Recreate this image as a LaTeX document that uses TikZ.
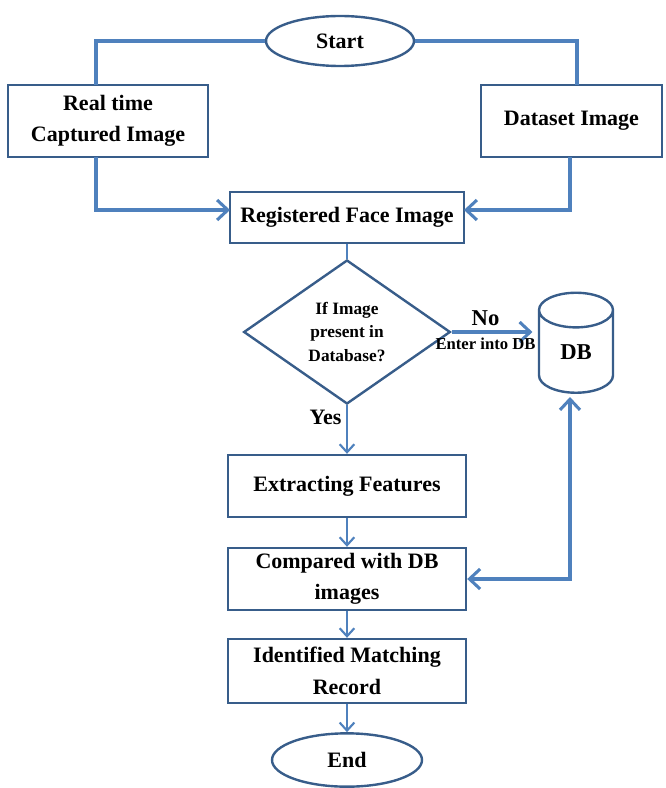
\documentclass[tikz,border=0pt]{standalone}
\usepackage{fontspec}
\setmainfont{Liberation Serif}
\usetikzlibrary{shapes.geometric,arrows.meta}

\definecolor{boxblue}{RGB}{56,93,138}
\definecolor{linkblue}{RGB}{79,129,189}

\tikzset{
    box/.style={draw=boxblue, line width=1.8pt, rectangle, align=center,
        font=\fontsize{16.5}{23.5}\selectfont\bfseries, inner sep=2pt},
    term/.style={draw=boxblue, line width=1.8pt, ellipse, inner sep=0pt,
        font=\fontsize{16.5}{20}\selectfont\bfseries},
    decision/.style={draw=boxblue, line width=1.8pt, diamond, inner sep=0pt, align=center,
        minimum width=155pt, minimum height=108pt,
        font=\fontsize{13}{17.5}\selectfont\bfseries},
    store/.style={draw=boxblue, line width=1.8pt, cylinder, shape border rotate=90,
        aspect=1.1, inner sep=0pt, minimum width=55.5pt, minimum height=75pt,
        font=\fontsize{17}{20}\selectfont\bfseries},
    link/.style={draw=linkblue, line width=1.6pt},
    thick link/.style={draw=linkblue, line width=2.3pt},
    tip/.style={-{Straight Barb[length=6pt,width=11pt,line width=1.6pt]}},
    big tip/.style={-{Straight Barb[length=8pt,width=15pt,line width=2.3pt]}},
    both tips/.style={{Straight Barb[length=8pt,width=15pt,line width=2.3pt]}-{Straight Barb[length=8pt,width=15pt,line width=2.3pt]}},
}

\begin{document}
\begin{tikzpicture}[x=0.75pt, y=-0.75pt]
    \useasboundingbox (0,0) rectangle (666,788);

    % nodes
    \node[term, minimum width=111pt, minimum height=37.5pt] (start) at (340,41) {Start};
    \node[box, minimum width=150pt, minimum height=54pt] (rt) at (108,121) {Real time\\Captured Image};
    \node[box, minimum width=135.75pt, minimum height=54pt] (ds) at (571.5,121) {Dataset Image};
    \node[box, minimum width=175.5pt, minimum height=38.25pt] (reg) at (347,217.5) {Registered Face Image};
    \node[decision] (dec) at (347,332) {If Image\\present in\\Database?};
    \node[store] (db) at (576,352) {DB};
    \node[box, minimum width=178.5pt, minimum height=46.5pt] (ext) at (347,486) {Extracting Features};
    \node[box, minimum width=178.5pt, minimum height=46.5pt] (cmp) at (347,579) {Compared with DB\\images};
    \node[box, minimum width=178.5pt, minimum height=48pt] (idf) at (347,671) {Identified Matching\\Record};
    \node[term, minimum width=112.5pt, minimum height=40pt] (end) at (347,760) {End};

    % helper points
    \coordinate (rtin) at (96,85);
    \coordinate (dsin) at (577,85);
    \coordinate (rtout) at (96,157);
    \coordinate (dsout) at (570,157);
    \coordinate (regl) at (230,210);
    \coordinate (regr) at (464,210);
    \coordinate (dbin) at (570,397);

    % connectors
    \draw[thick link] (start.west) -| (rtin);
    \draw[thick link] (start.east) -| (dsin);
    \draw[thick link, big tip] (rtout) |- (regl);
    \draw[thick link, big tip] (dsout) |- (regr);
    \draw[link] (reg.south) -- (dec.north);
    \draw[thick link, big tip] (dec.east) -- ([xshift=-4pt]dec.east -| db.west)
        node[pos=0.42, above, font=\fontsize{17}{20}\selectfont\bfseries] {No}
        node[pos=0.42, below, font=\fontsize{12.5}{15}\selectfont\bfseries] {Enter into DB};
    \draw[link, tip] (dec.south) -- (ext.north)
        node[pos=0.25, left, font=\fontsize{16.5}{20}\selectfont\bfseries] {Yes};
    \draw[link, tip] (ext.south) -- (cmp.north);
    \draw[link, tip] (cmp.south) -- (idf.north);
    \draw[link, tip] (idf.south) -- (end.north);
    \draw[thick link, both tips] (cmp.east) -| (dbin);
\end{tikzpicture}
\end{document}
